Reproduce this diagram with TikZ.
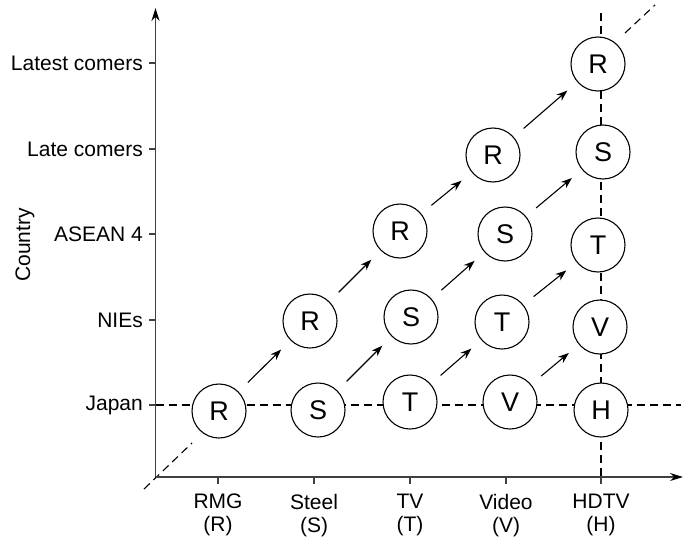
\documentclass[tikz,border=0pt]{standalone}
\usepackage{fontspec}
\setmainfont{Liberation Sans}
\usetikzlibrary{arrows.meta}
\begin{document}
\begin{tikzpicture}[x=1pt,y=-1pt,
  circ/.style={circle,draw,line width=1.1pt,fill=white,minimum size=54pt,inner sep=0pt,font=\fontsize{27}{30}\selectfont},
  lbl/.style={font=\fontsize{21}{23}\selectfont,inner sep=0pt},
  axisline/.style={line width=1.4pt,black!75,-{Stealth[length=13pt,width=8pt,black]}},
  tick/.style={line width=1.1pt,black!75},
  dsh/.style={line width=1.1pt,dash pattern=on 8pt off 5pt},
  arr/.style={line width=1.1pt,-{Stealth[length=11pt,width=8pt]},shorten <=13pt,shorten >=13pt},
]
\useasboundingbox (0,0) rectangle (684,543);
% coordinates
\coordinate (O) at (155.5,477);
\coordinate (ytop) at (155.5,8);
\coordinate (xend) at (683,477);
\coordinate (hl) at (155.5,405);
\coordinate (hr) at (681,405);
\coordinate (vt) at (601,13);
\coordinate (vb) at (601,477);
\coordinate (d1) at (144,489);
\coordinate (d2) at (192,443);
\coordinate (d3) at (625,33);
\coordinate (d4) at (655,5);
% dashed guide lines
\draw[dsh] (hl) -- (hr);
\draw[dsh] (vt) -- (vb);
\draw[dsh] (d1) -- (d2);
\draw[dsh] (d3) -- (d4);
% axes
\draw[axisline] (O) -- (ytop);
\draw[axisline] (O) -- (xend);
% y ticks and labels
\foreach \y/\t/\n in {405/Japan/lj,320/NIEs/ln,234/ASEAN 4/la,149/Late comers/llc,63/Latest comers/llt}{
  \draw[tick] (149,\y) -- (155.5,\y);
  \node[lbl,anchor=east] (\n) at (143,\y) {\t};
}
% x ticks and labels
\foreach \x/\t/\s/\n in {218/RMG/R/cr,314/Steel/S/cs,410/TV/T/ct,506/Video/V/cv,601/HDTV/H/ch}{
  \draw[tick] (\x,477) -- (\x,484);
  \node[lbl,align=center,anchor=north] (\n) at (\x,494) {\t\\(\s)};
}
\node[lbl,rotate=90] (country) at (25,245) {Country};
% circles
\node[circ] (R1) at (219,411) {R};
\node[circ] (S1) at (318,410) {S};
\node[circ] (T1) at (410,402) {T};
\node[circ] (V1) at (510,402) {V};
\node[circ] (H1) at (601,410) {H};
\node[circ] (R2) at (310,321) {R};
\node[circ] (S2) at (411,317) {S};
\node[circ] (T2) at (502,322) {T};
\node[circ] (V2) at (600,327) {V};
\node[circ] (R3) at (400,231) {R};
\node[circ] (S3) at (505,234) {S};
\node[circ] (T3) at (598,245) {T};
\node[circ] (R4) at (493,155) {R};
\node[circ] (S4) at (603,152) {S};
\node[circ] (R5) at (598,64) {R};
% arrows
\draw[arr] (R1) -- (R2);
\draw[arr] (R2) -- (R3);
\draw[arr] (R3) -- (R4);
\draw[arr] (R4) -- (R5);
\draw[arr] (S1) -- (S2);
\draw[arr] (S2) -- (S3);
\draw[arr] (S3) -- (S4);
\draw[arr] (T1) -- (T2);
\draw[arr] (T2) -- (T3);
\draw[arr] (V1) -- (V2);
\end{tikzpicture}
\end{document}
